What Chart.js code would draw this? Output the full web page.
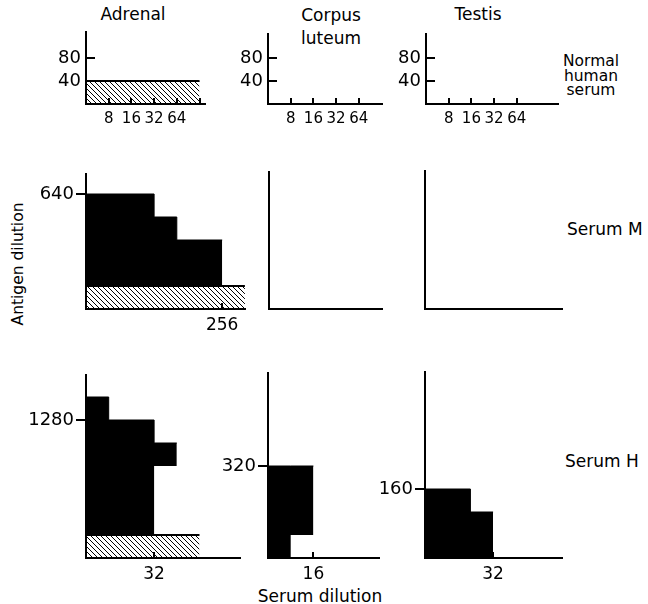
<!DOCTYPE html>
<html>
<head>
<meta charset="utf-8">
<script src="https://cdn.jsdelivr.net/npm/chart.js@4.4.0/dist/chart.umd.min.js"></script>
<style>
  body { margin: 0; background: #fff; }
  #fig { position: relative; width: 648px; height: 604px; overflow: hidden; font-family: "DejaVu Sans", sans-serif; color: #000; }
  #fig canvas { position: absolute; }
  .lbl { position: absolute; transform: translate(-50%, -50%); white-space: nowrap; font-size: 17px; }
  .side { position: absolute; white-space: nowrap; font-size: 17px; transform: translateY(-50%); }
</style>
</head>
<body>
<div id="fig">
  <div class="lbl" style="left:133px;top:14px">Adrenal</div>
  <div class="lbl" style="left:331px;top:15px">Corpus</div>
  <div class="lbl" style="left:331px;top:38px">luteum</div>
  <div class="lbl" style="left:478px;top:14px">Testis</div>
  <div class="lbl" style="left:591px;top:76px;font-size:15.5px;line-height:14.5px;text-align:center">Normal<br>human<br>serum</div>
  <div class="side" style="left:567px;top:229px">Serum M</div>
  <div class="side" style="left:565px;top:461px">Serum H</div>
  <div class="lbl" style="left:18px;top:264px;font-size:15.5px;transform:translate(-50%,-50%) rotate(-90deg)">Antigen dilution</div>
  <div class="lbl" style="left:320px;top:596px">Serum dilution</div>
</div>
<script>
// tick values (serum dilution on x, antigen dilution on y)
const normalTicksX = [8, 16, 32, 64];
const adrenalNormalTicksX = [8, 16, 32, 64, 128];
const normalTicksY = [40, 80];

// titre of normal human serum (hatched band) and where the band stops
const normalTitre = 40;
const adrenalNormalEnd = 128;
const adrenalMNormalEnd = 512;

// black areas: step edges on x, then top / bottom antigen dilution for each step
const adrenalMEdges = [4, 32, 64, 256];
const adrenalMTop = [640, 320, 160];
const adrenalMBottom = [40, 40, 40];

const adrenalHEdges = [4, 8, 32, 64];
const adrenalHTop = [2560, 1280, 640];
const adrenalHBottom = [40, 40, 320];

const luteumHEdges = [4, 8, 16];
const luteumHTop = [320, 320];
const luteumHBottom = [20, 40];

const testisHEdges = [4, 16, 32];
const testisHTop = [160, 80];
const testisHBottom = [20, 20];

const X_MIN = 4, Y_MIN = 20;
const XSTEP = 22.7, YSTEP = 23;   // pixels per doubling
const LEFT = 60, BOTTOM = 30, PAD = 4;
const FONT = '"DejaVu Sans", sans-serif';

// box = [x0, x1, yTop, y0] in page pixels
const panels = [
  { box: [86, 205, 32, 104], xTicks: adrenalNormalTicksX, xLabels: normalTicksX, xFont: 15, yTicks: normalTicksY, yInside: true, hatch: adrenalNormalEnd },
  { box: [268, 382, 34, 104], xTicks: normalTicksX, xLabels: normalTicksX, xFont: 15, yTicks: normalTicksY, yInside: true },
  { box: [426, 558, 34, 104], xTicks: normalTicksX, xLabels: normalTicksX, xFont: 15, yTicks: normalTicksY, yInside: true },

  { box: [86, 245, 174, 309], xTicks: [256], xLabels: [256], yTicks: [640], hatch: adrenalMNormalEnd,
    edges: adrenalMEdges, top: adrenalMTop, bottom: adrenalMBottom },
  { box: [269, 382, 172, 309], xTicks: [], xLabels: [], yTicks: [] },
  { box: [425, 562, 171, 309], xTicks: [], xLabels: [], yTicks: [] },

  { box: [86, 240, 375, 558], xTicks: [32], xLabels: [32], yTicks: [1280], hatch: adrenalNormalEnd,
    edges: adrenalHEdges, top: adrenalHTop, bottom: adrenalHBottom },
  { box: [268, 379, 373, 558], xTicks: [16], xLabels: [16], yTicks: [320],
    edges: luteumHEdges, top: luteumHTop, bottom: luteumHBottom },
  { box: [425, 562, 372, 558], xTicks: [32], xLabels: [32], yTicks: [160],
    edges: testisHEdges, top: testisHTop, bottom: testisHBottom }
];

// diagonal hatching for the normal serum band
function makeHatch() {
  const s = 5;
  const c = document.createElement('canvas');
  c.width = s; c.height = s;
  const g = c.getContext('2d');
  g.strokeStyle = '#000';
  g.lineWidth = 1;
  g.beginPath();
  [-s, 0, s].forEach(k => { g.moveTo(k, 0); g.lineTo(k + s, s); });
  g.stroke();
  return g.createPattern(c, 'repeat');
}
const hatchPattern = makeHatch();

function stepPoints(edges, levels) {
  return edges.map((x, i) => ({ x: x, y: levels[Math.min(i, levels.length - 1)] }));
}

// short ticks pointing into the plot
const innerTicks = {
  id: 'innerTicks',
  afterDraw(chart, args, opts) {
    const { ctx, chartArea, scales: { x, y } } = chart;
    ctx.save();
    ctx.strokeStyle = '#000';
    ctx.lineWidth = 2;
    ctx.beginPath();
    x.ticks.forEach(t => {
      const px = Math.round(x.getPixelForValue(t.value));
      ctx.moveTo(px, chartArea.bottom);
      ctx.lineTo(px, chartArea.bottom - 6);
    });
    if (opts.yInside) {
      y.ticks.forEach(t => {
        const py = Math.round(y.getPixelForValue(t.value));
        ctx.moveTo(chartArea.left, py);
        ctx.lineTo(chartArea.left + 9, py);
      });
    }
    ctx.stroke();
    ctx.restore();
  }
};

const fig = document.getElementById('fig');

panels.forEach(p => {
  const [x0, x1, yTop, y0] = p.box;
  const w = x1 - x0, h = y0 - yTop;
  const canvas = document.createElement('canvas');
  canvas.width = LEFT + w + PAD;
  canvas.height = PAD + h + BOTTOM;
  canvas.style.left = (x0 - LEFT) + 'px';
  canvas.style.top = (yTop - PAD) + 'px';
  fig.appendChild(canvas);

  const datasets = [];
  if (p.edges) {
    datasets.push({
      data: stepPoints(p.edges, p.top),
      stepped: true,
      borderColor: '#000',
      borderWidth: 1,
      backgroundColor: '#000',
      fill: '+1',
      pointRadius: 0
    });
    datasets.push({
      data: stepPoints(p.edges, p.bottom),
      stepped: true,
      borderColor: 'rgba(0,0,0,0)',
      borderWidth: 1,
      fill: false,
      pointRadius: 0
    });
  }
  if (p.hatch) {
    datasets.push({
      data: [{ x: X_MIN, y: normalTitre }, { x: p.hatch, y: normalTitre }],
      borderColor: '#000',
      borderWidth: 2,
      backgroundColor: hatchPattern,
      fill: 'start',
      pointRadius: 0
    });
  }

  new Chart(canvas, {
    type: 'line',
    data: { datasets: datasets },
    plugins: [innerTicks],
    options: {
      responsive: false,
      animation: false,
      events: [],
      devicePixelRatio: 1,
      layout: { padding: { top: PAD, right: PAD, left: 0, bottom: 0 } },
      plugins: {
        legend: { display: false },
        tooltip: { enabled: false },
        innerTicks: { yInside: !!p.yInside }
      },
      scales: {
        x: {
          type: 'logarithmic',
          bounds: 'data',
          min: X_MIN,
          max: X_MIN * Math.pow(2, w / XSTEP),
          afterBuildTicks: s => { s.ticks = p.xTicks.map(v => ({ value: v })); },
          afterFit: s => { s.height = BOTTOM; s.paddingLeft = 0; s.paddingRight = 0; },
          grid: { display: true, drawOnChartArea: false, drawTicks: false },
          border: { display: true, color: '#000', width: 2 },
          ticks: {
            display: p.xTicks.length > 0,
            autoSkip: false,
            maxRotation: 0,
            padding: 6,
            color: '#000',
            font: { family: FONT, size: p.xFont || 17 },
            callback: v => p.xLabels.includes(v) ? String(v) : ''
          }
        },
        y: {
          type: 'logarithmic',
          bounds: 'data',
          min: Y_MIN,
          max: Y_MIN * Math.pow(2, h / YSTEP),
          afterBuildTicks: s => { s.ticks = p.yTicks.map(v => ({ value: v })); },
          afterFit: s => { s.width = LEFT; s.paddingTop = 0; s.paddingBottom = 0; },
          grid: {
            display: true,
            drawOnChartArea: false,
            drawTicks: !p.yInside,
            tickLength: 10,
            color: '#000',
            lineWidth: 2
          },
          border: { display: true, color: '#000', width: 2 },
          ticks: {
            display: p.yTicks.length > 0,
            autoSkip: false,
            padding: p.yInside ? 5 : 2,
            color: '#000',
            font: { family: FONT, size: 18 },
            callback: v => String(v)
          }
        }
      }
    }
  });
});
</script>
</body>
</html>
